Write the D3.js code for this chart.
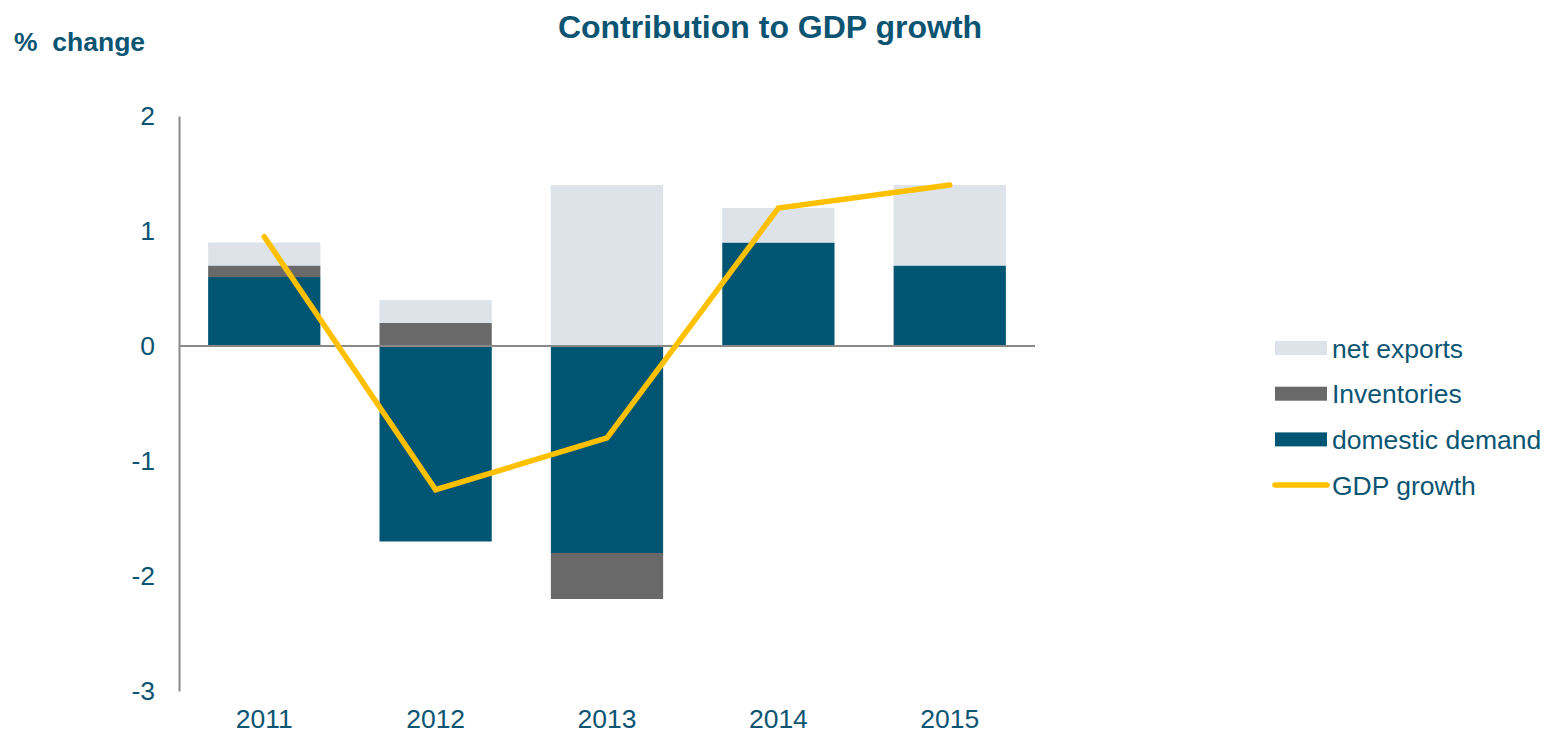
<!DOCTYPE html>
<html>
<head>
<meta charset="utf-8">
<script src="https://cdn.jsdelivr.net/npm/d3@7"></script>
<style>
  html, body { margin: 0; padding: 0; background: #fff; }
  svg { display: block; font-family: "Liberation Sans", Arial, sans-serif; }
</style>
</head>
<body>
<svg id="chart" width="1550" height="735"></svg>
<script>
// Contribution to GDP growth, percentage points
const years = ["2011", "2012", "2013", "2014", "2015"];
const domesticDemand = [0.6, -1.7, -1.8, 0.9, 0.7];
const inventories = [0.1, 0.2, -0.4, 0.0, 0.0];
const netExports = [0.2, 0.2, 1.4, 0.3, 0.7];
const gdpGrowth = [0.95, -1.25, -0.8, 1.2, 1.4];
const yTicks = [-3, -2, -1, 0, 1, 2];

const seriesNames = ["domestic demand", "Inventories", "net exports"];
const seriesValues = [domesticDemand, inventories, netExports];
const seriesColors = ["#005672", "#696969", "#dde3e9"];
const textColor = "#0b5573";
const lineColor = "#ffc000";
const axisColor = "#898989";
const fontFamily = "'Liberation Sans', Arial, sans-serif";

const svg = d3.select("#chart");

const x = d3.scaleBand().domain(years).range([179, 1035]).paddingInner(0.345).paddingOuter(0.17);
const y = d3.scaleLinear().domain([-3, 2]).range([691, 116]);

// stack positives upward and negatives downward from zero
const segments = [];
years.forEach((yr, i) => {
  let pos = 0, neg = 0;
  seriesValues.forEach((vals, s) => {
    const v = vals[i];
    if (v === 0) return;
    let y0, y1;
    if (v > 0) { y0 = pos; y1 = pos + v; pos = y1; }
    else { y0 = neg; y1 = neg + v; neg = y1; }
    segments.push({ year: yr, s, y0, y1 });
  });
});

svg.append("g").selectAll("rect").data(segments).join("rect")
  .attr("x", d => x(d.year))
  .attr("width", x.bandwidth())
  .attr("y", d => y(Math.max(d.y0, d.y1)))
  .attr("height", d => Math.abs(y(d.y0) - y(d.y1)))
  .attr("fill", d => seriesColors[d.s]);

// y axis: line and labels only
const yAxis = svg.append("g").attr("transform", "translate(179,0)")
  .call(d3.axisLeft(y).tickValues(yTicks).tickSize(0).tickPadding(24).tickFormat(d => String(d)));
yAxis.select(".domain").attr("stroke", axisColor).attr("stroke-width", 2);
yAxis.selectAll("text").attr("fill", textColor).attr("font-size", 26.5)
  .attr("font-family", fontFamily);

// zero line with category labels at the bottom
svg.append("line")
  .attr("x1", 179).attr("x2", 1035).attr("y1", y(0)).attr("y2", y(0))
  .attr("stroke", axisColor).attr("stroke-width", 2);

const xAxis = svg.append("g").attr("transform", "translate(0,691)")
  .call(d3.axisBottom(x).tickSize(0).tickPadding(18));
xAxis.select(".domain").remove();
xAxis.selectAll("text").attr("fill", textColor).attr("font-size", 26.5)
  .attr("font-family", fontFamily);

// GDP growth line
const line = d3.line().x((d, i) => x(years[i]) + x.bandwidth() / 2).y(d => y(d));
svg.append("path").datum(gdpGrowth)
  .attr("d", line).attr("fill", "none")
  .attr("stroke", lineColor).attr("stroke-width", 5.5)
  .attr("stroke-linecap", "round").attr("stroke-linejoin", "miter");

// title and unit
svg.append("text").attr("x", 770).attr("y", 38).attr("text-anchor", "middle")
  .attr("font-size", 32).attr("font-weight", "bold").attr("fill", textColor)
  .text("Contribution to GDP growth");
svg.append("text").attr("x", 14).attr("y", 51)
  .attr("font-size", 26.5).attr("font-weight", "bold").attr("fill", textColor)
  .attr("xml:space", "preserve").text("%  change");

// legend
const legendItems = [
  { name: "net exports", type: "rect", color: seriesColors[2] },
  { name: "Inventories", type: "rect", color: seriesColors[1] },
  { name: "domestic demand", type: "rect", color: seriesColors[0] },
  { name: "GDP growth", type: "line", color: lineColor }
];
const lg = svg.append("g").selectAll("g").data(legendItems).join("g")
  .attr("transform", (d, i) => `translate(1275,${348 + i * 45.7})`);
lg.filter(d => d.type === "rect").append("rect")
  .attr("x", 0).attr("y", -7).attr("width", 52).attr("height", 14).attr("fill", d => d.color);
lg.filter(d => d.type === "line").append("line")
  .attr("x1", 0).attr("x2", 52).attr("y1", 0).attr("y2", 0)
  .attr("stroke", d => d.color).attr("stroke-width", 5.5).attr("stroke-linecap", "round");
lg.append("text").attr("x", 57).attr("y", 9.5).attr("font-size", 26.5).attr("fill", textColor)
  .text(d => d.name);
</script>
</body>
</html>
